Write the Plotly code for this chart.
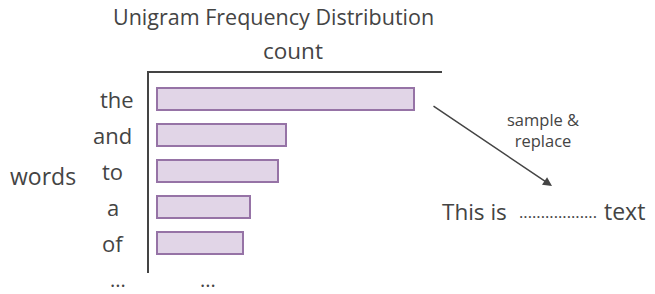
import plotly.graph_objects as go

words = ["the", "and", "to", "a", "of"]
counts = [257, 129, 121, 93, 86]
title_text = "Unigram Frequency Distribution"
x_title = "count"
y_title = "words"
arrow_label = "sample &<br>replace"
sentence_parts = ["This is", "..................", "text"]

W, H = 655, 294
TXT = "#444444"
FONT = "Open Sans"

def px(x):
    return x / W

def py(y):
    return 1 - y / H

fig = go.Figure()
fig.add_trace(go.Bar(
    y=words, x=counts, orientation="h", width=0.61,
    marker=dict(color="#e1d5e7", line=dict(color="#9673a6", width=2)),
    hoverinfo="skip",
))

ann = []
label_x = [117, 113, 113, 113, 113]
for w, lx in zip(words, label_x):
    ann.append(dict(x=px(lx), xref="paper", y=w, yref="y", text=w, showarrow=False,
                    xanchor="center", yanchor="middle", font=dict(size=22, color=TXT, family=FONT)))
ann.append(dict(x=px(118), xref="paper", y=py(279), yref="paper", text="...", showarrow=False,
                xanchor="center", yanchor="middle", font=dict(size=20, color=TXT, family=FONT)))
ann.append(dict(x=px(208), xref="paper", y=py(279), yref="paper", text="...", showarrow=False,
                xanchor="center", yanchor="middle", font=dict(size=20, color=TXT, family=FONT)))
ann.append(dict(x=px(273), xref="paper", y=py(17), yref="paper", text=title_text, showarrow=False,
                xanchor="center", yanchor="middle", font=dict(size=21.5, color=TXT, family=FONT)))
ann.append(dict(x=px(293), xref="paper", y=py(51), yref="paper", text=x_title, showarrow=False,
                xanchor="center", yanchor="middle", font=dict(size=22.5, color=TXT, family=FONT)))
ann.append(dict(x=px(43), xref="paper", y=py(176), yref="paper", text=y_title, showarrow=False,
                xanchor="center", yanchor="middle", font=dict(size=23, color=TXT, family=FONT)))
ann.append(dict(x=px(552), xref="paper", y=py(186), yref="paper", text="", showarrow=True,
                ax=432 - 552, ay=105 - 186, arrowhead=2, arrowsize=1.2, arrowwidth=1.5,
                arrowcolor=TXT))
ann.append(dict(x=px(543), xref="paper", y=py(130), yref="paper", text=arrow_label, showarrow=False,
                xanchor="center", yanchor="middle", font=dict(size=16.5, color=TXT, family=FONT)))
ann.append(dict(x=px(440), xref="paper", y=py(211), yref="paper", text=sentence_parts[0], showarrow=False,
                xanchor="left", yanchor="middle", font=dict(size=22.5, color=TXT, family=FONT)))
ann.append(dict(x=px(558), xref="paper", y=py(211), yref="paper", text=sentence_parts[1], showarrow=False,
                xanchor="center", yanchor="middle", font=dict(size=16.5, color=TXT, family=FONT)))
ann.append(dict(x=px(647), xref="paper", y=py(211), yref="paper", text=sentence_parts[2], showarrow=False,
                xanchor="right", yanchor="middle", font=dict(size=23, color=TXT, family=FONT)))

fig.update_layout(
    width=W, height=H, margin=dict(l=0, r=0, t=0, b=0),
    paper_bgcolor="white", plot_bgcolor="white", showlegend=False,
    annotations=ann,
    xaxis=dict(domain=[px(149), px(442)], range=[-8, 285], side="top", showline=True,
               linecolor=TXT, linewidth=2, showgrid=False, zeroline=False,
               showticklabels=False, ticks=""),
    yaxis=dict(domain=[py(273), py(73)], type="category", categoryarray=words,
               range=[4.83, -0.72], showline=True, linecolor=TXT, linewidth=2,
               showgrid=False, zeroline=False, showticklabels=False, ticks=""),
)
fig.write_html("out.html")
